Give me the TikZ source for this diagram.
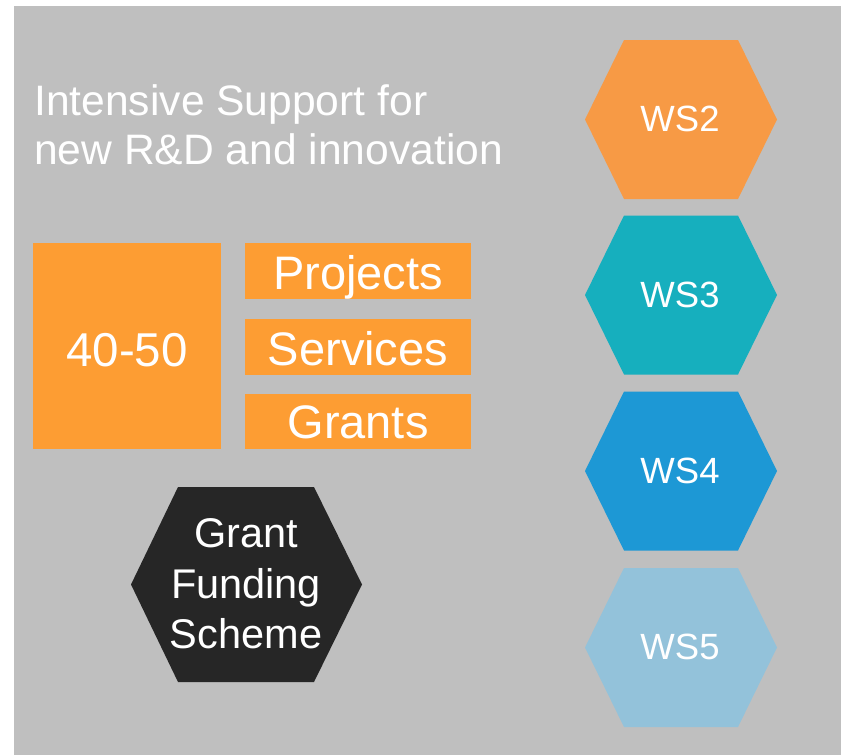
\documentclass[tikz,border=0pt]{standalone}
\usepackage{fontspec}
\setmainfont{Liberation Sans}
\definecolor{bggrey}{HTML}{BFBFBF}
\definecolor{rectorange}{HTML}{FD9D33}
\definecolor{wstwo}{HTML}{F79A45}
\definecolor{wsthree}{HTML}{16AFBE}
\definecolor{wsfour}{HTML}{1D98D5}
\definecolor{wsfive}{HTML}{93C2DA}
\definecolor{darkhex}{HTML}{262626}
\begin{document}
\begin{tikzpicture}[x=1pt,y=-1pt,
  txt/.style={text=white, inner sep=0pt, anchor=base},
  boxfill/.style={fill=rectorange, draw=none},
]
\useasboundingbox (0,0) rectangle (841,755);
\fill[bggrey] (14,6) rectangle (841,755);

% title
\node[txt, anchor=base west, font=\fontsize{42.6}{48}\selectfont] (t1) at (34,115) {Intensive Support for};
\node[txt, anchor=base west, font=\fontsize{42.6}{48}\selectfont] (t2) at (34,164) {new R\&D and innovation};

% rectangles
\fill[boxfill] (33,243) rectangle (221,449);
\node[txt, font=\fontsize{47.5}{50}\selectfont] (num) at (127,366) {40-50};
\fill[boxfill] (245,243) rectangle (471,299);
\node[txt, font=\fontsize{47}{50}\selectfont] (proj) at (358,289) {Projects};
\fill[boxfill] (245,319) rectangle (471,375);
\node[txt, font=\fontsize{47}{50}\selectfont] (serv) at (358,365) {Services};
\fill[boxfill] (245,394) rectangle (471,449);
\node[txt, font=\fontsize{47}{50}\selectfont] (grants) at (358,438) {Grants};

% WS hexagons
\foreach \cy/\col/\lab in {119.5/wstwo/WS2, 295/wsthree/WS3, 471/wsfour/WS4, 647.5/wsfive/WS5}{
  \fill[\col] (585,\cy) -- (624,\cy-79.5) -- (738,\cy-79.5) -- (777,\cy) -- (738,\cy+79.5) -- (624,\cy+79.5) -- cycle;
  \node[txt, font=\fontsize{36.5}{40}\selectfont] (\lab) at (680,\cy+12) {\lab};
}

% grant funding hexagon
\fill[darkhex] (131,584.5) -- (178,487) -- (314,487) -- (362,584.5) -- (314,682) -- (178,682) -- cycle;
\node[txt, font=\fontsize{41.5}{44}\selectfont] (g1) at (246,547) {Grant};
\node[txt, font=\fontsize{41.5}{44}\selectfont] (g2) at (246,598) {Funding};
\node[txt, font=\fontsize{41.5}{44}\selectfont] (g3) at (246,648) {Scheme};
\end{tikzpicture}
\end{document}
